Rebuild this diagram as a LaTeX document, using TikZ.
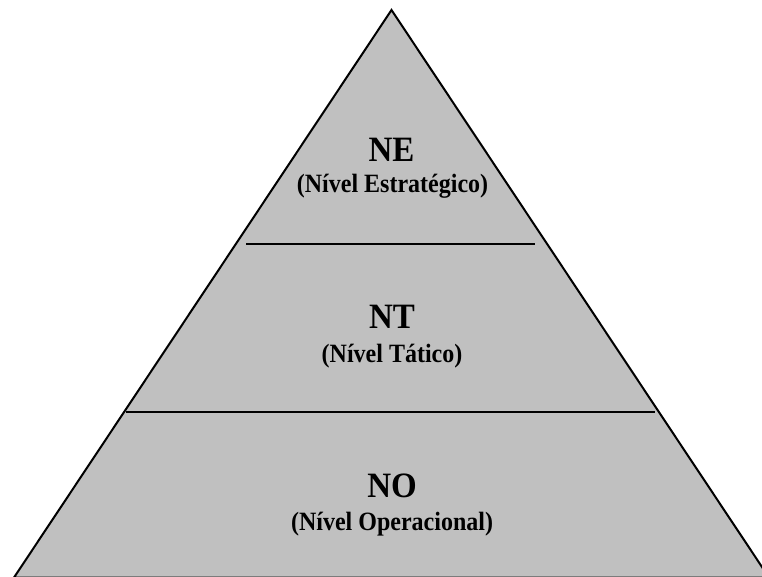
\documentclass[tikz,border=0pt]{standalone}
\usepackage{fontspec}
\setmainfont{Liberation Serif}
\definecolor{pyrgray}{RGB}{192,192,192}

\begin{document}
\begin{tikzpicture}[x=1pt, y=-1pt, font=\bfseries,
  nivel/.style={anchor=base, yscale=1.08, font=\fontsize{33}{36}\selectfont\bfseries},
  nome/.style={anchor=base, yscale=1.1, font=\fontsize{24}{27}\selectfont\bfseries}]
\useasboundingbox (0,0) rectangle (762,577);

\draw[line width=2pt, fill=pyrgray] (391.5,10) -- (14,577.5) -- (769,577.5) -- cycle;

\draw[line width=2pt] (246,244) -- (535,244);
\draw[line width=2pt] (126,412) -- (655,412);

\node[nivel] (ne) at (391.5,162) {NE};
\node[nome] (nen) at (392.5,193) {(Nível Estratégico)};
\node[nivel] (nt) at (392,328) {NT};
\node[nome] (ntn) at (392,362) {(Nível Tático)};
\node[nivel] (no) at (392,497) {NO};
\node[nome] (non) at (392,530) {(Nível Operacional)};

\end{tikzpicture}
\end{document}
